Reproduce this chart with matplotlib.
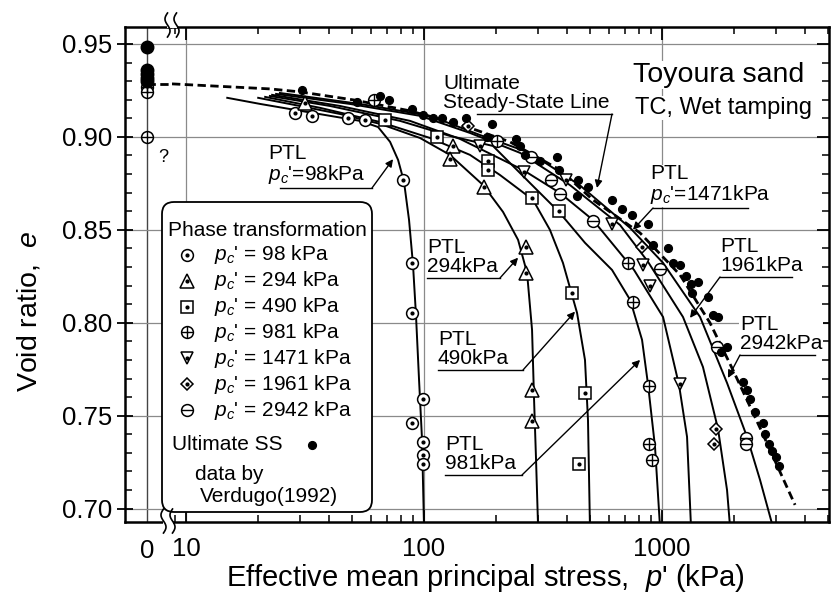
import numpy as np
import matplotlib.pyplot as plt
from matplotlib.lines import Line2D
from matplotlib.patches import FancyBboxPatch, Rectangle
from matplotlib.ticker import FixedLocator, FixedFormatter, LogLocator, NullFormatter, MultipleLocator

plt.rcParams['font.family'] = ['Liberation Sans', 'DejaVu Sans']
plt.rcParams['mathtext.fontset'] = 'custom'
plt.rcParams['mathtext.rm'] = 'Liberation Sans'
plt.rcParams['mathtext.it'] = 'Liberation Sans:italic'
plt.rcParams['mathtext.bf'] = 'Liberation Sans:bold'

# ---------------- data (p' in kPa, void ratio e) ----------------
pc_levels = [98, 294, 490, 981, 1471, 1961, 2942]

# phase transformation lines
ptl98_p = [14.9, 20.5, 28.7, 40.3, 53.8, 64.1, 72.0, 77.8, 82.4, 86.5, 89.9, 92.5, 95.3, 98.1, 100]
ptl98_e = [0.921, 0.9177, 0.9145, 0.9113, 0.9086, 0.9053, 0.8973, 0.8876, 0.8758, 0.8553, 0.8311, 0.8042, 0.7692, 0.737, 0.690]
ptl294_p = [20.1, 30.1, 44.4, 65.3, 96.2, 128.5, 177, 214.8, 248.4, 271, 284.4, 290, 295.6, 301.5]
ptl294_e = [0.921, 0.9166, 0.9123, 0.907, 0.8994, 0.8903, 0.8741, 0.8596, 0.8446, 0.8268, 0.7961, 0.7585, 0.7262, 0.690]
ptl490_p = [21.5, 36.6, 65.3, 105.9, 156, 208.4, 287, 338, 383.5, 439.5, 474.6, 488.6, 498]
ptl490_e = [0.9215, 0.9156, 0.908, 0.8994, 0.8903, 0.8795, 0.8661, 0.850, 0.8322, 0.8053, 0.780, 0.7477, 0.690]
ptl981_p = [22.5, 40.3, 79.3, 128.5, 194.9, 278.6, 369.2, 474.6, 616.6, 734.7, 824.3, 874, 934.6, 981]
ptl981_e = [0.922, 0.9166, 0.9086, 0.9005, 0.8951, 0.8752, 0.8596, 0.843, 0.8284, 0.8123, 0.7908, 0.7665, 0.7332, 0.690]
ptl1471_p = [23.0, 44.4, 87.3, 141.6, 260.6, 372.7, 512.6, 762.7, 1010, 1179, 1274, 1324]
ptl1471_e = [0.9226, 0.9166, 0.9086, 0.8989, 0.8822, 0.8698, 0.8553, 0.8284, 0.8031, 0.7665, 0.7386, 0.690]
ptl1961_p = [23.9, 48.9, 96.2, 156, 253.2, 410, 666, 874, 1225, 1486, 1719, 1876, 1932]
ptl1961_e = [0.9231, 0.9177, 0.9113, 0.9021, 0.8914, 0.8741, 0.8526, 0.8327, 0.8031, 0.7762, 0.7429, 0.710, 0.690]
ptl2942_p = [24.8, 53.8, 105.9, 171.8, 278.6, 450, 734.7, 1010, 1445, 1876, 2276, 2582, 2926]
ptl2942_e = [0.9236, 0.9177, 0.9113, 0.901, 0.8914, 0.8741, 0.851, 0.8322, 0.8031, 0.7676, 0.7386, 0.7154, 0.690]
ptl_p = [ptl98_p, ptl294_p, ptl490_p, ptl981_p, ptl1471_p, ptl1961_p, ptl2942_p]
ptl_e = [ptl98_e, ptl294_e, ptl490_e, ptl981_e, ptl1471_e, ptl1961_e, ptl2942_e]

# phase transformation points
pt98_p = [28.7, 33.8, 48.0, 56.5, 81.6, 89.1, 89.1, 99.0, 89.1, 99.0, 99.0, 99.0]
pt98_e = [0.913, 0.911, 0.910, 0.909, 0.877, 0.832, 0.805, 0.759, 0.746, 0.736, 0.729, 0.724]
pt294_p = [31.6, 132.5, 128.5, 178.6, 268, 268, 284.6, 284.6]
pt294_e = [0.918, 0.895, 0.888, 0.873, 0.841, 0.827, 0.764, 0.747]
pt490_p = [68.6, 113.4, 185.8, 185.8, 284.6, 369, 418.5, 474, 448]
pt490_e = [0.909, 0.900, 0.887, 0.882, 0.867, 0.860, 0.816, 0.762, 0.724]
pt981_p = [61.6, 202.8, 719, 755, 881, 881, 908]
pt981_e = [0.920, 0.898, 0.832, 0.811, 0.766, 0.735, 0.726]
pt1471_p = [171.8, 263, 395, 617, 832, 891, 1190]
pt1471_e = [0.895, 0.881, 0.877, 0.853, 0.831, 0.820, 0.767]
pt1961_p = [153, 824, 1688, 1653]
pt1961_e = [0.906, 0.841, 0.743, 0.735]
pt2942_p = [281.6, 341.7, 372.7, 512.6, 980, 1702, 2254, 2254]
pt2942_e = [0.889, 0.877, 0.869, 0.855, 0.829, 0.787, 0.738, 0.735]
pt_p = [pt98_p, pt294_p, pt490_p, pt981_p, pt1471_p, pt1961_p, pt2942_p]
pt_e = [pt98_e, pt294_e, pt490_e, pt981_e, pt1471_e, pt1961_e, pt2942_e]

# ultimate steady state (Verdugo 1992)
ss_p = [30.7, 52.3, 65.3, 71.3, 89.0, 99.0, 109.1, 119.0, 132.4, 150.2, 193.1, 183.9, 243.6,
        253.2, 265.7, 307.2, 362.2, 369.2, 443.7, 439.5, 488.9, 616.6, 679.2, 747.9, 873.3,
        916.6, 1060, 1112, 1190, 1261, 1324, 1337, 1561, 1638, 1719, 1876, 2189, 2276, 2343,
        2657, 2709, 2816, 3013, 3102, 1770, 1420, 2450, 2900]
ss_e = [0.925, 0.919, 0.922, 0.920, 0.915, 0.912, 0.910, 0.910, 0.908, 0.910, 0.907, 0.900, 0.899,
        0.895, 0.890, 0.887, 0.889, 0.882, 0.877, 0.868, 0.873, 0.866, 0.861, 0.858, 0.853,
        0.842, 0.840, 0.832, 0.831, 0.825, 0.821, 0.816, 0.814, 0.804, 0.803, 0.787, 0.768, 0.764, 0.759,
        0.746, 0.740, 0.735, 0.728, 0.723, 0.784, 0.822, 0.752, 0.731]

# ultimate steady-state line
ssl_e0 = 0.9285
ssl_p = [8.73, 15.3, 22.5, 30.1, 50.4, 87.3, 156, 229.6, 372.7, 512.6, 808.5, 1191, 1591, 1986, 2582, 3622]
ssl_e = [0.9285, 0.9269, 0.9258, 0.9242, 0.9199, 0.914, 0.9048, 0.8973, 0.8822, 0.8661, 0.8483,
         0.8257, 0.7999, 0.7746, 0.7434, 0.702]

# values plotted at p' = 0
zero_ss_e = [0.9484, 0.936, 0.9339, 0.9317, 0.9301]
zero_pt_e = [0.927, 0.924, 0.900]

marker_style = {98: ('o', 'dot', 8.5), 294: ('^', 'dot', 9.5), 490: ('s', 'dot', 8.0),
                981: ('o', '+', 8.5), 1471: ('v', 'dot', 9.0), 1961: ('D', 'dot', 6.5),
                2942: ('o', '_', 8.5)}

# ---------------- figure ----------------
W, H = 832, 603
fig = plt.figure(figsize=(W / 100, H / 100), dpi=100)
inch_tr = fig.dpi_scale_trans


def inch(x, y):
    return x / 100, (H - y) / 100


L, R, T, B, BRK = 125, 829, 27, 522, 172
ax0 = fig.add_axes([L / W, 1 - B / H, (BRK - L) / W, (B - T) / H])
ax1 = fig.add_axes([BRK / W, 1 - B / H, (R - BRK) / W, (B - T) / H])

e_lim = (0.6928, 0.9591)
for ax in (ax0, ax1):
    ax.set_ylim(*e_lim)
    for s in ax.spines.values():
        s.set_linewidth(1.8)
    ax.yaxis.set_major_locator(FixedLocator([0.70, 0.75, 0.80, 0.85, 0.90, 0.95]))
    ax.yaxis.set_minor_locator(MultipleLocator(0.01))
    ax.grid(True, which='major', color='#8a8a8a', lw=0.9)
    ax.set_axisbelow(True)

ax0.spines['right'].set_visible(False)
ax1.spines['left'].set_visible(False)

# p' = 0 strip
ax0.set_xlim(-1.0, 1.136)
ax0.set_xticks([0])
ax0.set_xticklabels(['0'])
ax0.yaxis.set_major_formatter(FixedFormatter(['0.70', '0.75', '0.80', '0.85', '0.90', '0.95']))
ax0.tick_params(axis='y', which='major', direction='inout', length=11, width=1.3, labelsize=18.5, pad=4)
ax0.tick_params(axis='y', which='minor', direction='in', length=5, width=1.1)
ax0.tick_params(axis='x', which='major', direction='in', length=0, labelsize=18.5, pad=12)
ax0.xaxis.grid(True, color='#444444', lw=1.0)

# log axis
ax1.set_xscale('log')
ax1.set_xlim(8.73, 5031)
ax1.xaxis.set_major_locator(FixedLocator([10, 100, 1000]))
ax1.xaxis.set_major_formatter(FixedFormatter(['10', '100', '1000']))
ax1.xaxis.set_minor_locator(LogLocator(base=10, subs=np.arange(2, 10)))
ax1.xaxis.set_minor_formatter(NullFormatter())
ax1.tick_params(axis='x', which='major', direction='in', top=True, length=9, width=1.3, labelsize=18.5, pad=11)
ax1.tick_params(axis='x', which='minor', direction='in', top=True, length=5, width=1.1)
ax1.tick_params(axis='y', which='both', direction='in', left=False, right=True, labelleft=False)
ax1.tick_params(axis='y', which='major', length=9, width=1.3)
ax1.tick_params(axis='y', which='minor', length=5, width=1.1)

# steady-state line
ax0.plot([0, 1.136], [ssl_e0, ssl_e0], color='k', lw=2.0, dashes=(3, 1.6), zorder=3)
ax1.plot(ssl_p, ssl_e, color='k', lw=2.0, dashes=(3, 1.6), zorder=3)

# PTL curves
for p, e in zip(ptl_p, ptl_e):
    ax1.plot(p, e, color='k', lw=1.4, zorder=3)


def draw_marks(ax, p, e, outer, inner, ms, z=4):
    ax.plot(p, e, ls='none', marker=outer, ms=ms, mfc='white', mec='k', mew=1.1, zorder=z)
    if inner == 'dot':
        ax.plot(p, e, ls='none', marker='o', ms=2.0, color='k', zorder=z + 0.1)
    else:
        ax.plot(p, e, ls='none', marker=inner, ms=ms, color='k', mew=1.0, zorder=z + 0.1)


for pc, p, e in zip(pc_levels, pt_p, pt_e):
    outer, inner, ms = marker_style[pc]
    draw_marks(ax1, p, e, outer, inner, ms)

ax1.plot(ss_p, ss_e, ls='none', marker='o', ms=5.6, color='k', zorder=5)

ax0.plot([0] * len(zero_ss_e), zero_ss_e, ls='none', marker='o', ms=9, color='k', zorder=5)
draw_marks(ax0, [0] * len(zero_pt_e), zero_pt_e, 'o', '+', 8.5)
ax0.text(0.75, 0.889, '?', fontsize=13, ha='center', va='center')

# ---------------- annotations ----------------
lab_kw = dict(transform=inch_tr, fontsize=15, ha='left', va='bottom', linespacing=1.0,
              bbox=dict(fc='white', ec='none', pad=0.5), zorder=6)


def ptl_label(text, x_left, y_line, x0, x1, lead_xy, tip):
    fig.text(*inch(x_left, y_line - 2), text, **lab_kw)
    a, b = inch(x0, y_line), inch(x1, y_line)
    fig.add_artist(Line2D([a[0], b[0]], [a[1], b[1]], transform=inch_tr, color='k', lw=1.0, zorder=6))
    ax1.annotate('', xy=tip, xycoords='data', xytext=inch(*lead_xy), textcoords=inch_tr,
                 arrowprops=dict(arrowstyle='-|>', color='k', lw=1.0, mutation_scale=11,
                                 shrinkA=0, shrinkB=0), zorder=6)


ptl_label("PTL\n$p_c$'=98kPa", 268, 188, 280, 372, (372, 188), (74.1, 0.888))
ptl_label("PTL\n294kPa", 427, 278, 427, 500, (500, 278), (248.4, 0.835))
ptl_label("PTL\n490kPa", 438, 370, 438, 523, (523, 370), (431, 0.806))
ptl_label("PTL\n981kPa", 445, 475, 445, 522, (522, 475), (809, 0.780))
ptl_label("PTL\n$p_c$'=1471kPa", 650, 208, 653, 748, (653, 208), (755, 0.850))
ptl_label("PTL\n1961kPa", 720, 277, 720, 792, (720, 277), (1311, 0.8026))
ptl_label("PTL\n2942kPa", 740, 355, 740, 815, (740, 355), (1892, 0.7703))
ptl_label("Ultimate\nSteady-State Line", 443, 114, 477, 612, (612, 114), (533, 0.8725))

fig.text(*inch(633, 75), 'Toyoura sand', transform=inch_tr, fontsize=20.5, ha='left', va='center',
         bbox=dict(fc='white', ec='none', pad=0.5), zorder=6)
fig.text(*inch(635, 108), 'TC, Wet tamping', transform=inch_tr, fontsize=17, ha='left', va='center',
         bbox=dict(fc='white', ec='none', pad=0.5), zorder=6)

# legend box
lx, ly = inch(162, 512)
fig.add_artist(FancyBboxPatch((lx, ly), 2.10, 3.10, boxstyle='round,pad=0,rounding_size=0.12',
                              transform=inch_tr, fc='white', ec='k', lw=1.3, zorder=7))
fig.text(*inch(168, 230), 'Phase transformation', transform=inch_tr, fontsize=15, ha='left',
         va='center', zorder=8)
row_y = [255, 281, 307, 332, 358, 384, 410]
for pc, yy in zip(pc_levels, row_y):
    outer, inner, ms = marker_style[pc]
    mx, my = inch(187, yy)
    fig.add_artist(Line2D([mx], [my], transform=inch_tr, ls='none', marker=outer, ms=ms,
                          mfc='white', mec='k', mew=1.1, zorder=8))
    if inner == 'dot':
        fig.add_artist(Line2D([mx], [my], transform=inch_tr, ls='none', marker='o', ms=2.0,
                              color='k', zorder=8.1))
    else:
        fig.add_artist(Line2D([mx], [my], transform=inch_tr, ls='none', marker=inner, ms=ms,
                              color='k', mew=1.0, zorder=8.1))
    fig.text(*inch(214, yy), "$p_c$' = %d kPa" % pc, transform=inch_tr, fontsize=15,
             ha='left', va='center', zorder=8)
fig.text(*inch(172, 445), 'Ultimate SS', transform=inch_tr, fontsize=15, ha='left', va='center', zorder=8)
dx, dy = inch(312, 445)
fig.add_artist(Line2D([dx], [dy], transform=inch_tr, ls='none', marker='o', ms=5.6, color='k', zorder=8))
fig.text(*inch(195, 475), 'data by', transform=inch_tr, fontsize=15, ha='left', va='center', zorder=8)
fig.text(*inch(200, 497), 'Verdugo(1992)', transform=inch_tr, fontsize=15, ha='left', va='center', zorder=8)

# axis break marks
for xc, yc in ((172, 25), (168, 521)):
    rx, ry = inch(xc - 5, yc + 3)
    fig.add_artist(Rectangle((rx, ry), 0.10, 0.06, transform=inch_tr, fc='white', ec='none', zorder=9))
    t = np.linspace(-1, 1, 40)
    for off in (-4.5, 4.5):
        xs = (xc + off + 2.5 * np.sin(np.pi * t)) / 100
        ys = (H - (yc + 12 * t)) / 100
        fig.add_artist(Line2D(xs, ys, transform=inch_tr, color='k', lw=1.2, zorder=10))

# axis titles
fig.text(*inch(29, 312), 'Void ratio,  $e$', transform=inch_tr, rotation=90, fontsize=20.5,
         ha='center', va='center')
fig.text(*inch(485, 578), "Effective mean principal stress,  $p$' (kPa)", transform=inch_tr,
         fontsize=21, ha='center', va='center')

fig.savefig('out.png', dpi=100)
